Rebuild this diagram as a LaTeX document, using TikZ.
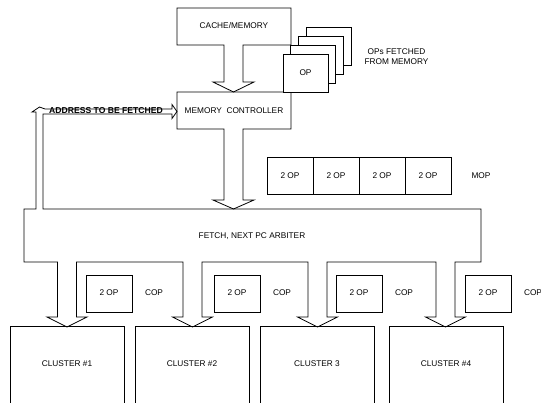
\documentclass[tikz,border=0pt]{standalone}
\usepackage{fontspec}
\setmainfont{Liberation Sans}
\begin{document}
\begin{tikzpicture}[x=1pt,y=-1pt, line width=0.8pt, line join=miter,
  lbl/.style={font=\fontsize{8.3}{10}\selectfont, inner sep=0pt, align=center},
  boldlbl/.style={font=\bfseries\fontsize{8.6}{10}\selectfont, inner sep=0pt},
  opbox/.style={draw, fill=white}
]
\useasboundingbox (0,0) rectangle (541,402);
\clip (0,0) rectangle (541,402);

% cache / memory with its block arrow
\draw (177,8) -- (291,8) -- (291,45) -- (243,45) -- (243,82) -- (254,82)
  -- (233.5,92) -- (213,82) -- (224,82) -- (224,45) -- (177,45) -- cycle;
\node[lbl] (cache) at (234,26) {CACHE/MEMORY};

% memory controller with its block arrow
\draw (177,92) -- (291,92) -- (291,129) -- (243,129) -- (243,200) -- (254,200)
  -- (233.5,209) -- (213,200) -- (224,200) -- (224,129) -- (177,129) -- cycle;
\node[lbl] (mc) at (234,110.5) {MEMORY\ \ CONTROLLER};

% stacked OPs
\foreach \k in {3,2,1} {
  \draw[opbox] ({283+7.7*\k},{54-9*\k}) rectangle ({328+7.7*\k},{92-9*\k});
}
\draw[opbox] (283,54) rectangle (328,92);
\node[lbl] (op) at (305.5,73) {OP};
\node[lbl] (opsf) at (396.5,57) {OPs FETCHED\\FROM MEMORY};

% MOP row
\foreach \x/\n in {267/1,313/2,359/3,405/4} {
  \draw (\x,157) rectangle ({\x+46},194);
  \node[lbl] (mop\n) at ({\x+23},175.5) {2 OP};
}
\node[lbl] (mop) at (481,175.5) {MOP};

% fetch / next PC arbiter with feedback arrow and cluster arrows
\draw (24,209) -- (24,262)
  -- (57.5,262) -- (57.5,317) -- (47,317) -- (67,327) -- (87,317) -- (76.5,317) -- (76.5,262)
  -- (183,262) -- (183,317) -- (172.5,317) -- (192.5,327) -- (212.5,317) -- (202,317) -- (202,262)
  -- (308,262) -- (308,317) -- (297.5,317) -- (317.5,327) -- (337.5,317) -- (327,317) -- (327,262)
  -- (436,262) -- (436,317) -- (425.5,317) -- (445.5,327) -- (465.5,317) -- (455,317) -- (455,262)
  -- (481,262) -- (481,209) -- (43,209) -- (43,114) -- (172,114) -- (172,118.5)
  -- (177,111.5) -- (172,104.5) -- (172,109) -- (45,109) -- (39.5,107) -- (32,112)
  -- (36,112) -- (36,209) -- cycle;
\node[lbl] (arb) at (252,236.5) {FETCH, NEXT PC ARBITER};
\node[boldlbl] (addr) at (106,111) {ADDRESS TO BE FETCHED};

% COP boxes
\foreach \x/\n in {86/1,214/2,336/3,465/4} {
  \draw (\x,275) rectangle ({\x+46},312);
  \node[lbl] (cop\n) at ({\x+23},293) {2 OP};
  \node[lbl] (copl\n) at ({\x+68},293) {COP};
}

% clusters
\foreach \x/\t in {10/{CLUSTER \#1},135/{CLUSTER \#2},260/{CLUSTER 3},389/{CLUSTER \#4}} {
  \draw (\x,326) rectangle ({\x+114},410);
  \node[lbl] at ({\x+57},364) {\t};
}
\end{tikzpicture}
\end{document}
